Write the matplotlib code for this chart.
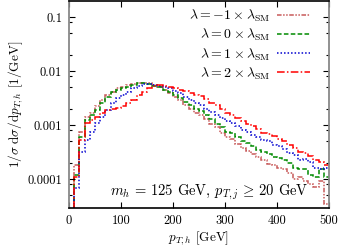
import numpy as np
import matplotlib
matplotlib.use("Agg")
import matplotlib.pyplot as plt
from matplotlib.ticker import FixedLocator, NullFormatter

plt.rcParams['font.family'] = 'serif'
plt.rcParams['font.serif'] = ['cmr10', 'DejaVu Serif']
plt.rcParams['mathtext.fontset'] = 'cm'
plt.rcParams['axes.unicode_minus'] = False

# bin edges in GeV (10 GeV bins)
edges = np.arange(0, 510, 10)

# normalised distributions, one value per bin
lam_m1 = [1e-6, 1.8e-4, 7.4e-4, 1.4e-3, 1.65e-3, 2.2e-3, 2.9e-3, 3.6e-3, 4.1e-3, 4.8e-3,
          5.1e-3, 5.5e-3, 5.8e-3, 5.9e-3, 6.1e-3, 6.0e-3, 5.5e-3, 5.1e-3, 4.5e-3, 3.9e-3,
          3.3e-3, 2.9e-3, 2.3e-3, 2.0e-3, 1.7e-3, 1.5e-3, 1.3e-3, 1.05e-3, 9e-4, 7e-4,
          6e-4, 5.5e-4, 4.5e-4, 3.8e-4, 3.3e-4, 2.9e-4, 2.5e-4, 2.2e-4, 1.9e-4, 1.8e-4,
          1.6e-4, 1.5e-4, 1.3e-4, 1.0e-4, 1.1e-4, 9e-5, 8e-5, 7e-5, 9e-5, 3.5e-5]
lam_0 = [1e-6, 1.2e-4, 6e-4, 1.25e-3, 1.5e-3, 1.9e-3, 2.5e-3, 3.3e-3, 4.1e-3, 4.4e-3,
         4.8e-3, 5.1e-3, 5.5e-3, 5.9e-3, 5.9e-3, 5.8e-3, 5.3e-3, 5.0e-3, 4.5e-3, 4.1e-3,
         3.6e-3, 3.2e-3, 2.7e-3, 2.3e-3, 2.0e-3, 1.8e-3, 1.55e-3, 1.3e-3, 1.05e-3, 9e-4,
         7.5e-4, 7.0e-4, 6.0e-4, 5.0e-4, 4.6e-4, 4.0e-4, 3.4e-4, 3.2e-4, 2.9e-4, 2.6e-4,
         2.4e-4, 2.2e-4, 2.0e-4, 1.6e-4, 1.5e-4, 1.5e-4, 1.2e-4, 1.1e-4, 1.5e-4, 1.1e-4]
lam_1 = [1e-6, 6.8e-5, 3.2e-4, 5.3e-4, 7.5e-4, 1.07e-3, 1.4e-3, 1.9e-3, 2.5e-3, 3.2e-3,
         3.6e-3, 4.1e-3, 4.8e-3, 5.3e-3, 5.7e-3, 5.8e-3, 5.5e-3, 5.3e-3, 5.1e-3, 4.8e-3,
         4.3e-3, 3.9e-3, 3.3e-3, 2.9e-3, 2.5e-3, 2.3e-3, 2.0e-3, 1.75e-3, 1.55e-3, 1.35e-3,
         1.2e-3, 1.1e-3, 9.5e-4, 8.0e-4, 7.5e-4, 6.5e-4, 6.0e-4, 5.3e-4, 5.0e-4, 4.3e-4,
         4.0e-4, 3.6e-4, 3.0e-4, 2.8e-4, 2.2e-4, 2.3e-4, 2.1e-4, 1.6e-4, 1.5e-4, 1.6e-4]
lam_2 = [1e-6, 1.1e-4, 5.2e-4, 1.07e-3, 1.25e-3, 1.4e-3, 1.65e-3, 1.9e-3, 2.0e-3, 2.1e-3,
         2.2e-3, 2.6e-3, 2.9e-3, 3.6e-3, 4.1e-3, 4.8e-3, 5.3e-3, 5.5e-3, 5.3e-3, 5.1e-3,
         4.8e-3, 4.5e-3, 4.2e-3, 3.9e-3, 3.6e-3, 3.4e-3, 3.0e-3, 2.6e-3, 2.3e-3, 2.0e-3,
         1.7e-3, 1.55e-3, 1.35e-3, 1.2e-3, 1.05e-3, 9.5e-4, 8.5e-4, 7.2e-4, 6.8e-4, 6.2e-4,
         5.4e-4, 5.0e-4, 4.3e-4, 3.8e-4, 3.2e-4, 3.0e-4, 2.7e-4, 2.2e-4, 2.1e-4, 1.8e-4]

labels = [r'$\lambda = -1 \times \lambda_{\rm SM}$', r'$\lambda = 0 \times \lambda_{\rm SM}$',
          r'$\lambda = 1 \times \lambda_{\rm SM}$', r'$\lambda = 2 \times \lambda_{\rm SM}$']
series = [lam_m1, lam_0, lam_1, lam_2]
colors = ['#c85a5a', '#008a00', '#0000d0', '#ff0000']
styles = [(0, (3, 1, 1, 1, 1, 1)), (0, (3, 1.5)), (0, (1, 1.3)), (0, (5, 1.5, 1, 1.5))]

fig = plt.figure(figsize=(3.42, 2.49), dpi=100)
ax = fig.add_axes([0.2018, 0.1647, 0.7602, 0.8313])

for vals, lab, c, ls in zip(series, labels, colors, styles):
    ax.stairs(vals, edges, baseline=None, color=c, linestyle=ls, linewidth=1.1, label=lab)

ax.set_yscale('log')
ax.set_xlim(0, 500)
ax.set_ylim(2.9e-5, 0.198)

ax.set_xticks([0, 100, 200, 300, 400, 500])
ax.set_xticklabels(['0', '100', '200', '300', '400', '500'])
ax.set_yticks([1e-4, 1e-3, 1e-2, 1e-1])
ax.set_yticklabels(['0.0001', '0.001', '0.01', '0.1'])
minors = [m * 10.0 ** e for e in range(-5, 0) for m in (2, 5, 8)]
ax.yaxis.set_minor_locator(FixedLocator(minors))
ax.yaxis.set_minor_formatter(NullFormatter())
ax.tick_params(which='both', direction='in', top=True, right=True, labelsize=9, pad=5)
ax.tick_params(which='major', length=4, width=0.8)
ax.tick_params(which='minor', length=2, width=0.8)

for s in ['left', 'right']:
    ax.spines[s].set_color('#888888')
    ax.spines[s].set_linewidth(1.3)
for s in ['top', 'bottom']:
    ax.spines[s].set_color('black')
    ax.spines[s].set_linewidth(1.2)

ax.set_xlabel(r'$p_{T,h}$ [GeV]', fontsize=9.5, labelpad=2)
ax.set_ylabel(r'$1/\sigma\ \mathrm{d}\sigma/\mathrm{d}p_{T,h}$ [1/GeV]', fontsize=9.5, labelpad=2)

ax.text(0.922, 0.03, r'$m_h\,=\,125$ GeV, $p_{T,j}\,\geq\,20$ GeV', transform=ax.transAxes,
        ha='right', va='bottom', fontsize=10.5)

ax.legend(loc='upper right', bbox_to_anchor=(0.955, 1.0), frameon=False, markerfirst=False,
          fontsize=10, handlelength=2.4, labelspacing=0.2, borderaxespad=0.1, handletextpad=0.5)

fig.savefig('out.png', dpi=100)
